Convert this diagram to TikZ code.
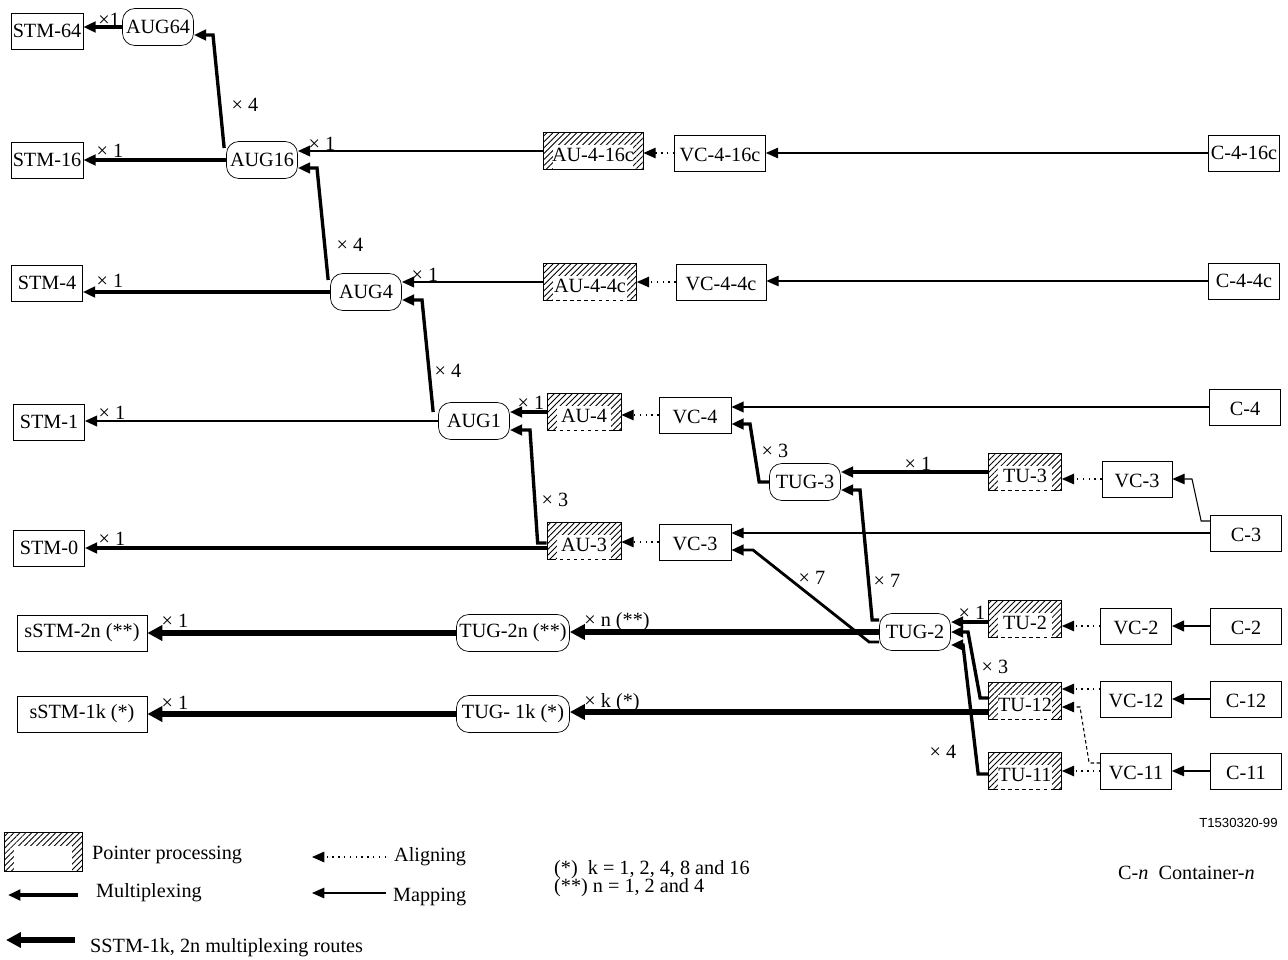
\documentclass[tikz,border=0pt]{standalone}
\usepackage{fontspec}
\setmainfont{Liberation Serif}
\setsansfont{Liberation Sans}
\usetikzlibrary{arrows.meta,patterns.meta,calc}

\begin{document}
\begin{tikzpicture}[x=0.02cm, y=-0.02cm,
    font=\fontsize{11.5}{13}\selectfont,
    cbox/.style={draw, rectangle, inner sep=1pt, minimum height=0.72cm, minimum width=1.42cm},
    low/.style={text height=10.5pt, text depth=0.5pt},
    grp/.style={draw, rounded corners=7pt, inner sep=1pt, minimum height=0.74cm, minimum width=1.42cm},
    hatchbox/.style={cbox, text height=12pt, text depth=0pt, minimum height=0.75cm,
        pattern={Lines[angle=45, distance=2.4pt, line width=0.5pt]},
        path picture={\fill[white] ([xshift=5.5pt]path picture bounding box.south west)
            rectangle ([xshift=-5.5pt,yshift=-7.5pt]path picture bounding box.north east);}},
    lbl/.style={inner sep=0pt},
    arrowtip/.style={-{Triangle[length=7pt,width=6pt]}},
    mux/.style={arrowtip, line width=1.9pt},
    route/.style={-{Triangle[length=8.5pt,width=8.5pt]}, line width=3.2pt},
    mapline/.style={arrowtip, line width=0.6pt},
    alignline/.style={arrowtip, line width=0.7pt, dash pattern=on 0.8pt off 2.5pt},
]
    \useasboundingbox (0,0) rectangle (1288,960);

    % AUG chain
    \node[cbox] (stm64) at (47,31) {STM-64};
    \node[grp] (aug64) at (158,27) {AUG64};
    \node[cbox] (stm16) at (47,160) {STM-16};
    \node[grp] (aug16) at (262,160) {AUG16};
    \node[cbox] (stm4) at (47,283) {STM-4};
    \node[grp] (aug4) at (366,292) {AUG4};
    \node[cbox] (stm1) at (49,422) {STM-1};
    \node[grp] (aug1) at (474,421) {AUG1};
    \node[cbox] (stm0) at (49,548) {STM-0};

    % AU and VC
    \node[hatchbox, minimum width=2cm] (au416c) at (593,151) {AU-4-16c};
    \node[cbox, low, minimum width=1.82cm] (vc416c) at (720,153) {VC-4-16c};
    \node[cbox] (c416c) at (1244,153) {C-4-16c};
    \node[hatchbox, minimum width=1.86cm] (au44c) at (590,282) {AU-4-4c};
    \node[cbox, low, minimum width=1.8cm] (vc44c) at (721,282) {VC-4-4c};
    \node[cbox] (c44c) at (1244,281) {C-4-4c};
    \node[hatchbox, minimum width=1.48cm] (au4) at (584,412) {AU-4};
    \node[cbox, low, minimum width=1.44cm] (vc4) at (695,415) {VC-4};
    \node[cbox, low] (c4) at (1245,407) {C-4};
    \node[hatchbox, minimum width=1.48cm] (au3) at (584,541) {AU-3};
    \node[cbox, low, minimum width=1.44cm] (vc3) at (695,542) {VC-3};
    \node[cbox, low] (c3) at (1246,533) {C-3};

    % TUG and TU
    \node[grp] (tug3) at (805,482) {TUG-3};
    \node[hatchbox, minimum width=1.46cm] (tu3) at (1025,472) {TU-3};
    \node[cbox, low, minimum width=1.4cm] (vc3r) at (1137,479) {VC-3};
    \node[grp] (tug2) at (915,632) {TUG-2};
    \node[hatchbox, minimum width=1.46cm] (tu2) at (1025,619) {TU-2};
    \node[cbox, low] (vc2) at (1136,626) {VC-2};
    \node[cbox, low] (c2) at (1246,626) {C-2};
    \node[hatchbox, minimum width=1.46cm] (tu12) at (1025,701) {TU-12};
    \node[cbox, low] (vc12) at (1136,699) {VC-12};
    \node[cbox, low] (c12) at (1246,699) {C-12};
    \node[hatchbox, minimum width=1.46cm] (tu11) at (1025,771) {TU-11};
    \node[cbox, low] (vc11) at (1136,771) {VC-11};
    \node[cbox, low] (c11) at (1246,771) {C-11};

    % sub-STM
    \node[cbox, minimum width=2.6cm] (sstm2n) at (82,633) {sSTM-2n (**)};
    \node[grp, minimum width=2.26cm] (tug2n) at (513,633) {TUG-2n (**)};
    \node[cbox, minimum width=2.6cm] (sstm1k) at (82,714) {sSTM-1k (*)};
    \node[grp, minimum width=2.26cm] (tug1k) at (513,714) {TUG- 1k (*)};

    % dashed bottom of the hatched boxes
    \foreach \n in {au416c,au44c,au4,au3,tu3,tu2,tu12,tu11}
        \draw[white, line width=0.7pt, dash pattern=on 2pt off 2pt]
            ([xshift=5.5pt]\n.south west) -- ([xshift=-5.5pt]\n.south east);

    % Edges
    \draw[mux] (aug64.west) -- (aug64.west -| stm64.east);
    \draw[mux] ($(aug16.west)+(-2,-12)$) -- (213,35) -- ($(aug64.east)+(0,8)$);
    \draw[mux] (aug16.west) -- (aug16.west -| stm16.east);
    \draw[mux, line width=1.3pt] (au416c.west) -- (au416c.west -| aug16.east);
    \draw[alignline] (vc416c.west) -- (vc416c.west -| au416c.east);
    \draw[mapline] (c416c.west) -- (c416c.west -| vc416c.east);

    \draw[mux] ($(aug4.west)+(-2,-12)$) -- (317,168) -- ($(aug16.east)+(0,8)$);
    \draw[mux] (aug4.west) -- (aug4.west -| stm4.east);
    \draw[mux, line width=1.3pt] (au44c.west) -- (au44c.west -| aug4.east);
    \draw[alignline] (vc44c.west) -- (vc44c.west -| au44c.east);
    \draw[mapline] (c44c.west) -- (c44c.west -| vc44c.east);

    \draw[mux] ($(aug1.west)+(-5,-9)$) -- (422,300) -- ($(aug4.east)+(0,8)$);
    \draw[mux, line width=1.3pt] (aug1.west) -- (aug1.west -| stm1.east);
    \draw[mux] (au4.west) -- (au4.west -| aug1.east);
    \draw[alignline] (vc4.west) -- (vc4.west -| au4.east);
    \draw[mux, line width=1.2pt] (c4.west) -- (c4.west -| vc4.east);

    \draw[mux] ($(au3.west)+(0,2)$) -- ++(-9,0) -- (530,430) -- ($(aug1.east)+(0,9)$);
    \coordinate (s0) at ($(au3.west)+(0,7)$);
    \draw[mux, line width=2.5pt] (s0) -- (s0 -| stm0.east);
    \draw[alignline] (vc3.west) -- (vc3.west -| au3.east);
    \draw[mapline] (c3.west) -- (c3.west -| vc3.east);

    \draw[mux] (tug3.west) -- ++(-10,0) -- (750,424) -- ($(vc4.east)+(0,9)$);
    \draw[mux, line width=2.2pt] (tu3.west) -- (tu3.west -| tug3.east);
    \draw[alignline] (vc3r.west) -- (vc3r.west -| tu3.east);
    \draw[mapline] ($(c3.west)+(0,-12)$) -- ++(-9,0) -- (1192,479) -- (vc3r.east);

    \draw[mux] ($(tug2.west)+(0,-12)$) -- ++(-7,0) -- (860,490) -- ($(tug3.east)+(0,8)$);
    \draw[mux, line width=1.6pt] ($(tug2.west)+(0,10)$) -- ++(-10,0) -- (753,550) -- ($(vc3.east)+(0,8)$);
    \draw[route] (tug2.west) -- (tug2.west -| tug2n.east);
    \draw[route] (tug2n.west) -- (tug2n.west -| sstm2n.east);
    \coordinate (k12) at ($(tu12.west)+(0,11)$);
    \draw[route] (k12) -- (k12 -| tug1k.east);
    \draw[route] (tug1k.west) -- (tug1k.west -| sstm1k.east);

    \coordinate (k2) at ($(tu2.west)+(0,3)$);
    \draw[mux, line width=2.2pt] (k2) -- (k2 -| tug2.east);
    \draw[alignline] (vc2.west) -- (vc2.west -| tu2.east);
    \draw[mux, line width=1.5pt] (c2.west) -- (c2.west -| vc2.east);
    \draw[mux] ($(tu12.west)+(0,-3)$) -- ++(-8,0) -- (968,632) -- (tug2.east);
    \draw[mux] ($(tu11.west)+(0,3)$) -- ++(-10,0) -- (963,645) -- ($(tug2.east)+(0,13)$);
    \coordinate (a12) at ($(vc12.west)+(0,-10)$);
    \draw[alignline] (a12) -- (a12 -| tu12.east);
    \draw[mux, line width=1.5pt] (c12.west) -- (c12.west -| vc12.east);
    \draw[mapline, dash pattern=on 2pt off 1.5pt] ($(vc11.west)+(0,-8)$) -- ++(-11,0) -- (1080,707) -- ($(tu12.east)+(0,6)$);
    \draw[alignline] (vc11.west) -- (vc11.west -| tu11.east);
    \draw[mapline] (c11.west) -- (c11.west -| vc11.east);

    % Multipliers
    \node[lbl] (m64) at (109,20) {×1};
    \node[lbl] (m64u) at (245,105) {× 4};
    \node[lbl] (m16) at (110,151) {× 1};
    \node[lbl] (m16c) at (322,144) {× 1};
    \node[lbl] (m16u) at (350,245) {× 4};
    \node[lbl] (m4) at (110,281) {× 1};
    \node[lbl] (m4c) at (425,275) {× 1};
    \node[lbl] (m4u) at (448,371) {× 4};
    \node[lbl] (m1) at (112,413) {× 1};
    \node[lbl] (m1a) at (531,403) {× 1};
    \node[lbl] (m1u) at (555,500) {× 3};
    \node[lbl] (m0) at (112,539) {× 1};
    \node[lbl] (mt3v) at (775,451) {× 3};
    \node[lbl] (mt3) at (918,464) {× 1};
    \node[lbl] (m7a) at (812,578) {× 7};
    \node[lbl] (m7b) at (887,581) {× 7};
    \node[lbl] (m2n) at (175,621) {× 1};
    \node[lbl] (mn) at (617,622) {× n (**)};
    \node[lbl] (mt2) at (972,613) {× 1};
    \node[lbl] (mt12) at (995,667) {× 3};
    \node[lbl] (m1k) at (175,703) {× 1};
    \node[lbl] (mk) at (612,703) {× k (*)};
    \node[lbl] (mt11) at (943,752) {× 4};

    % Legend
    \node[font=\sffamily\fontsize{7.5}{9}\selectfont, anchor=east, inner sep=0pt] (fig) at (1278,823) {T1530320-99};
    \node[hatchbox, minimum width=1.56cm, minimum height=0.78cm] (ppkey) at (43,852) {};
    \node[anchor=west] (pptext) at (86,855) {Pointer processing};
    \coordinate (muxa) at (78,895);
    \coordinate (muxb) at (8,895);
    \draw[mux] (muxa) -- (muxb);
    \node[anchor=west] (muxtext) at (90,893) {Multiplexing};
    \coordinate (routea) at (75,940);
    \coordinate (routeb) at (6,940);
    \draw[route] (routea) -- (routeb);
    \node[anchor=west] (routetext) at (84,948) {SSTM-1k, 2n multiplexing routes};
    \coordinate (alna) at (386,857);
    \coordinate (alnb) at (312,857);
    \draw[alignline] (alna) -- (alnb);
    \node[anchor=west] (alntext) at (388,857) {Aligning};
    \coordinate (mapa) at (386,893);
    \coordinate (mapb) at (312,893);
    \draw[mapline] (mapa) -- (mapb);
    \node[anchor=west] (maptext) at (387,897) {Mapping};
    \node[anchor=west] (notek) at (548,870) {(*)\ \ k = 1, 2, 4, 8 and 16};
    \node[anchor=west] (noten) at (548,888) {(**) n = 1, 2 and 4};
    \node[anchor=west] (cn) at (1112,873) {C-\textit{n}\ \ Container-\textit{n}};
\end{tikzpicture}
\end{document}
